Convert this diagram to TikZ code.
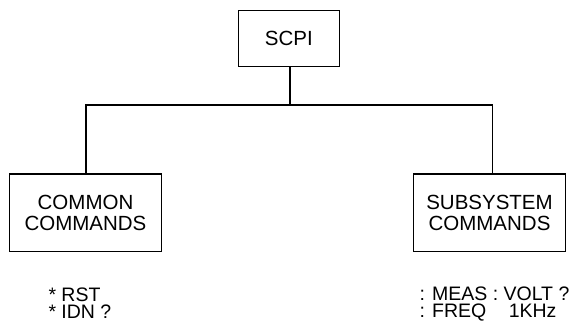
\documentclass[tikz,border=0pt]{standalone}
\usepackage{fontspec}
\setmainfont{Liberation Sans}
\begin{document}
\begin{tikzpicture}[x=1pt,y=-1pt,
  box/.style={draw=black,line width=1.1pt,rectangle,inner sep=0pt,align=center,
              font=\fontsize{20.5}{21}\selectfont},
  wire/.style={draw=black,line width=1.1pt},
  cmd/.style={anchor=base west,inner sep=0pt,align=left,
              font=\fontsize{19.5}{16.8}\selectfont}]
  \useasboundingbox (0,0) rectangle (572,326);

  % tree of command groups
  \node[box,minimum width=101pt,minimum height=56pt] (scpi) at (288.8,38.7) {SCPI};
  \node[box,minimum width=152.4pt,minimum height=77.7pt] (common) at (85.5,212.8)
       {COMMON\\COMMANDS};
  \node[box,minimum width=152.4pt,minimum height=77.7pt] (subsys) at (489.5,212.8)
       {SUBSYSTEM\\COMMANDS};

  % branching connectors
  \coordinate (bus) at (290,105);
  \coordinate (jl) at (86,105);
  \coordinate (jr) at (492.7,105);
  \draw[wire] (scpi.south -| bus) -- (bus);
  \draw[wire] (jl |- common.north) -- (jl) -- (jr) -- (jr |- subsys.north);

  % example commands, one block per group (base = last line)
  \node[cmd] (commoncmds) at (48.3,318) {* RST\\* IDN ?};
  \node[cmd] (subcmds) at (419.3,317.5) {: MEAS : VOLT ?\\: FREQ\hspace{22.5pt}1KHz};
\end{tikzpicture}
\end{document}
